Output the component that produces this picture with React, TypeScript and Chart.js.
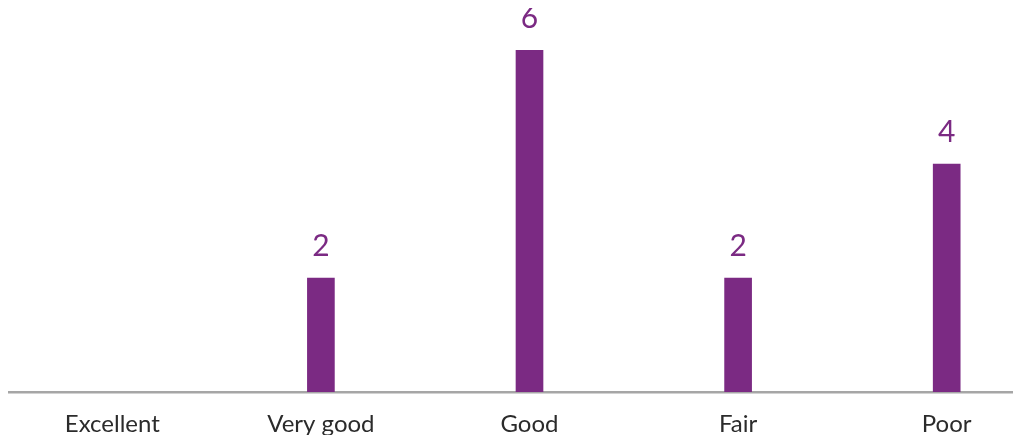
import React, { useEffect, useRef } from "react";
import { Chart, registerables } from "chart.js";

Chart.register(...registerables);

const categories = ["Excellent", "Very good", "Good", "Fair", "Poor"];
const counts = [0, 2, 6, 2, 4];

const PURPLE = "#7B2A83";

const valueLabels = {
  id: "valueLabels",
  afterDatasetsDraw(chart: any) {
    const ctx = chart.ctx;
    const meta = chart.getDatasetMeta(0);
    ctx.save();
    ctx.fillStyle = PURPLE;
    ctx.font = "30px Lato, 'Noto Sans', sans-serif";
    ctx.textAlign = "center";
    ctx.textBaseline = "middle";
    meta.data.forEach((el: any, i: number) => {
      const v = counts[i];
      if (!v) return;
      ctx.fillText(String(v), el.x, el.y - 32);
    });
    ctx.restore();
  },
};

export default function App() {
  const ref = useRef<HTMLCanvasElement | null>(null);
  useEffect(() => {
    if (!ref.current) return;
    const chart = new Chart(ref.current, {
      type: "bar",
      data: {
        labels: categories,
        datasets: [
          {
            data: counts.map((v) => (v === 0 ? null : v)),
            backgroundColor: PURPLE,
            barThickness: 27,
            borderWidth: 0,
          },
        ],
      },
      options: {
        animation: false,
        responsive: true,
        maintainAspectRatio: false,
        layout: { padding: { top: 42, left: 0, right: 0, bottom: 0 } },
        plugins: {
          legend: { display: false },
          tooltip: { enabled: false },
        },
        scales: {
          x: {
            grid: { display: false, drawTicks: false },
            border: { display: true, color: "#a6a6a6", width: 2.5 },
            ticks: {
              color: "#2b2b2b",
              padding: 18,
              maxRotation: 0,
              font: { size: 24, family: "Lato, 'Noto Sans', sans-serif", lineHeight: 1.2 },
            },
            afterFit(scale: any) {
              scale.height = 43;
            },
          },
          y: {
            display: false,
            min: 0,
            max: 6,
          },
        },
      },
      plugins: [valueLabels],
    });
    return () => chart.destroy();
  }, []);
  return (
    <div style={{ width: 1013, overflow: "hidden" }}>
      <div style={{ width: 1043, height: 427, position: "relative" }}>
        <canvas ref={ref} />
      </div>
    </div>
  );
}
